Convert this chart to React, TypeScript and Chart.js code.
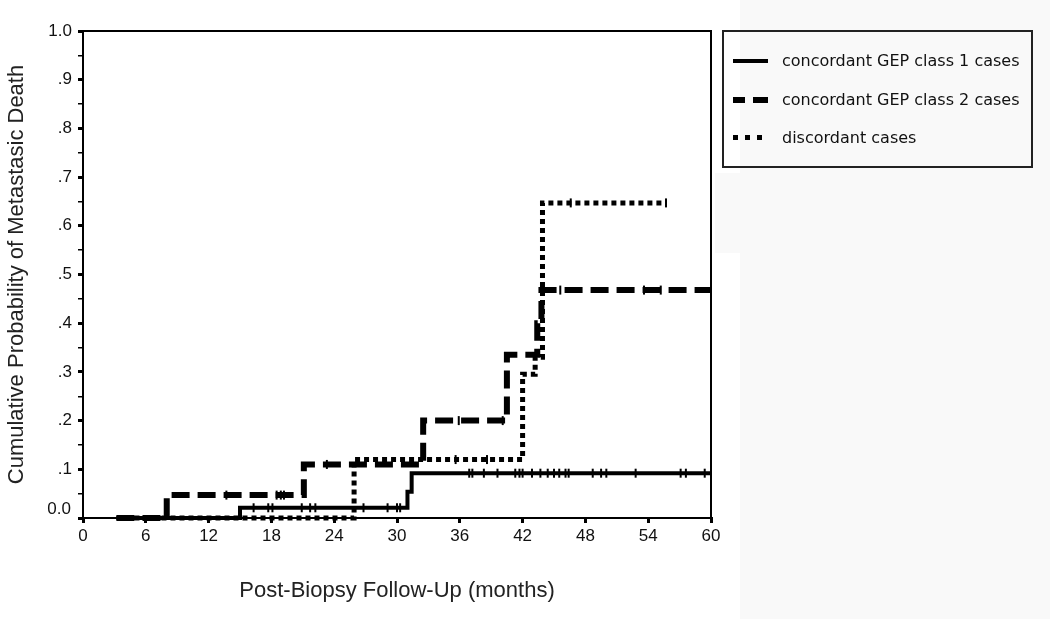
import React, { useEffect, useRef } from "react";
import { Chart, registerables } from "chart.js";

Chart.register(...registerables);

// Kaplan–Meier step curves (months, cumulative probability)
const class1Times = [3.2, 15.0, 31.0, 31.4, 60];
const class1Probs = [0, 0.021, 0.054, 0.092, 0.092];

const class2Times = [3.2, 8.0, 21.1, 32.5, 40.5, 43.4, 43.8, 60];
const class2Probs = [0, 0.047, 0.11, 0.2, 0.335, 0.4, 0.468, 0.468];

const discTimes = [3.2, 25.9, 42.0, 43.2, 43.9, 55.7];
const discProbs = [0, 0.12, 0.295, 0.33, 0.647, 0.647];

// censoring marks
const class1CensorTimes = [16.3, 17.7, 18.1, 20.9, 21.7, 22.2, 26.8, 29.1, 30.0, 30.3,
  36.9, 37.2, 38.3, 39.6, 41.3, 41.7, 42.0, 42.9, 43.7, 44.4, 45.0, 45.5, 46.1, 46.4,
  48.7, 49.5, 50.0, 52.8, 57.1, 57.6, 59.4];
const class1CensorProbs = [0.021, 0.021, 0.021, 0.021, 0.021, 0.021, 0.021, 0.021, 0.021, 0.021,
  0.092, 0.092, 0.092, 0.092, 0.092, 0.092, 0.092, 0.092, 0.092, 0.092, 0.092, 0.092, 0.092, 0.092,
  0.092, 0.092, 0.092, 0.092, 0.092, 0.092, 0.092];

const class2CensorTimes = [13.7, 18.5, 18.9, 19.2, 23.3, 35.9, 40.1, 45.6, 53.6, 55.2];
const class2CensorProbs = [0.047, 0.047, 0.047, 0.047, 0.11, 0.2, 0.2, 0.468, 0.468, 0.468];

const discCensorTimes = [35.6, 38.6, 46.6, 55.7];
const discCensorProbs = [0.12, 0.12, 0.647, 0.647];

const xTickStep = 6;
const legendLabels = [
  "concordant GEP class 1 cases",
  "concordant GEP class 2 cases",
  "discordant cases",
];

const FONT = '"Liberation Sans", Arial, sans-serif';

const pts = (xs: number[], ys: number[]) => xs.map((x, i) => ({ x, y: ys[i] }));

const framePlugin = {
  id: "frame",
  afterDraw(chart: any) {
    const { ctx, chartArea: a } = chart;
    ctx.save();
    ctx.strokeStyle = "#000";
    ctx.lineWidth = 2;
    ctx.beginPath();
    ctx.moveTo(a.left, a.top);
    ctx.lineTo(a.right, a.top);
    ctx.lineTo(a.right, a.bottom);
    ctx.stroke();
    ctx.fillStyle = "#111";
    ctx.font = `17px ${FONT}`;
    ctx.textAlign = "right";
    ctx.textBaseline = "middle";
    ctx.fillText("0.0", a.left - 12, chart.scales.y.getPixelForValue(0) - 9);
    ctx.restore();
  },
};

function KMChart() {
  const ref = useRef<HTMLCanvasElement | null>(null);
  useEffect(() => {
    if (!ref.current) return;
    const lineBase = {
      borderColor: "#000",
      backgroundColor: "#000",
      pointRadius: 0,
      stepped: "before" as const,
      fill: false,
      borderCapStyle: "butt" as const,
      borderJoinStyle: "miter" as const,
      clip: false as any,
    };
    const censorBase = {
      type: "scatter" as const,
      showLine: false,
      pointStyle: "line" as const,
      rotation: 90,
      pointRadius: 4.5,
      borderWidth: 2,
      borderColor: "#000",
      backgroundColor: "#000",
      clip: false as any,
    };
    const chart = new Chart(ref.current, {
      type: "line",
      data: {
        datasets: [
          { ...lineBase, label: legendLabels[0], data: pts(class1Times, class1Probs), borderWidth: 4 },
          { ...lineBase, label: legendLabels[1], data: pts(class2Times, class2Probs), borderWidth: 6, borderDash: [18, 8] },
          { ...lineBase, label: legendLabels[2], data: pts(discTimes, discProbs), borderWidth: 5, borderDash: [5, 4] },
          { ...censorBase, label: "c1", data: pts(class1CensorTimes, class1CensorProbs) } as any,
          { ...censorBase, label: "c2", data: pts(class2CensorTimes, class2CensorProbs) } as any,
          { ...censorBase, label: "c3", data: pts(discCensorTimes, discCensorProbs) } as any,
        ],
      },
      options: {
        animation: false,
        responsive: true,
        maintainAspectRatio: false,
        layout: { padding: { left: 0, top: 31, right: 339, bottom: 0 } },
        plugins: { legend: { display: false }, tooltip: { enabled: false } },
        scales: {
          x: {
            type: "linear",
            min: 0,
            max: 60,
            afterFit: (s: any) => { s.height = 101; },
            border: { display: true, color: "#000", width: 2 },
            grid: { drawOnChartArea: false, drawTicks: true, tickLength: 5, color: "#000", lineWidth: 3 },
            ticks: {
              stepSize: xTickStep,
              autoSkip: false,
              maxRotation: 0,
              padding: 3,
              color: "#111",
              font: { family: FONT, size: 17 },
            },
            title: {
              display: true,
              text: "Post-Biopsy Follow-Up (months)",
              color: "#222",
              font: { family: FONT, size: 22 },
              padding: { top: 0, bottom: 15 },
            },
          },
          y: {
            type: "linear",
            min: 0,
            max: 1,
            afterFit: (s: any) => { s.width = 83; },
            border: { display: true, color: "#000", width: 2 },
            grid: {
              drawOnChartArea: false,
              drawTicks: true,
              tickLength: 5,
              color: "#000",
              lineWidth: (c: any) => {
                const k = Math.round((c.tick?.value ?? 0) * 100);
                return k % 10 === 0 ? 3 : 1.5;
              },
            },
            ticks: {
              stepSize: 0.05,
              autoSkip: false,
              padding: 6,
              color: "#111",
              font: { family: FONT, size: 17 },
              callback: (v: any) => {
                const k = Math.round(Number(v) * 100);
                if (k % 10 !== 0 || k === 0) return "";
                return k === 100 ? "1.0" : "." + k / 10;
              },
            },
            title: {
              display: true,
              text: "Cumulative Probability of Metastasic Death",
              color: "#222",
              font: { family: FONT, size: 22 },
              padding: { top: 4, bottom: 0 },
            },
          },
        },
      },
      plugins: [framePlugin],
    });
    return () => chart.destroy();
  }, []);
  return <canvas ref={ref} />;
}

function LegendSample({ kind }: { kind: number }) {
  if (kind === 0) return <div style={{ position: "absolute", left: 0, top: -2, width: 35, height: 4, background: "#000" }} />;
  if (kind === 1)
    return (
      <>
        <div style={{ position: "absolute", left: 0, top: -3, width: 12, height: 6, background: "#000" }} />
        <div style={{ position: "absolute", left: 20, top: -3, width: 15, height: 6, background: "#000" }} />
      </>
    );
  return (
    <>
      {[0, 12, 24].map((l) => (
        <div key={l} style={{ position: "absolute", left: l, top: -3, width: 5, height: 5, background: "#000" }} />
      ))}
    </>
  );
}

export default function App() {
  const rows = [31, 70, 108];
  return (
    <div style={{ position: "absolute", left: 0, top: 0, width: 1050, height: 619, background: "#fff", overflow: "hidden" }}>
      <div style={{ position: "absolute", left: 740, top: 0, width: 310, height: 619, background: "#f9f9f9" }} />
      <div style={{ position: "absolute", left: 715, top: 173, width: 25, height: 80, background: "#f9f9f9" }} />
      <div style={{ position: "absolute", left: 0, top: 0, width: 1050, height: 619 }}>
        <KMChart />
      </div>
      <div
        style={{
          position: "absolute",
          left: 722,
          top: 30,
          width: 311,
          height: 138,
          border: "2px solid #222",
          boxSizing: "border-box",
          fontFamily: '"DejaVu Sans", sans-serif',
          fontSize: 16,
          color: "#111",
        }}
      >
        {legendLabels.map((t, i) => (
          <div key={t} style={{ position: "absolute", left: 9, top: rows[i] - 2, width: 290, height: 0 }}>
            <LegendSample kind={i} />
            <div style={{ position: "absolute", left: 49, top: -10, lineHeight: "20px", whiteSpace: "nowrap" }}>{t}</div>
          </div>
        ))}
      </div>
    </div>
  );
}
